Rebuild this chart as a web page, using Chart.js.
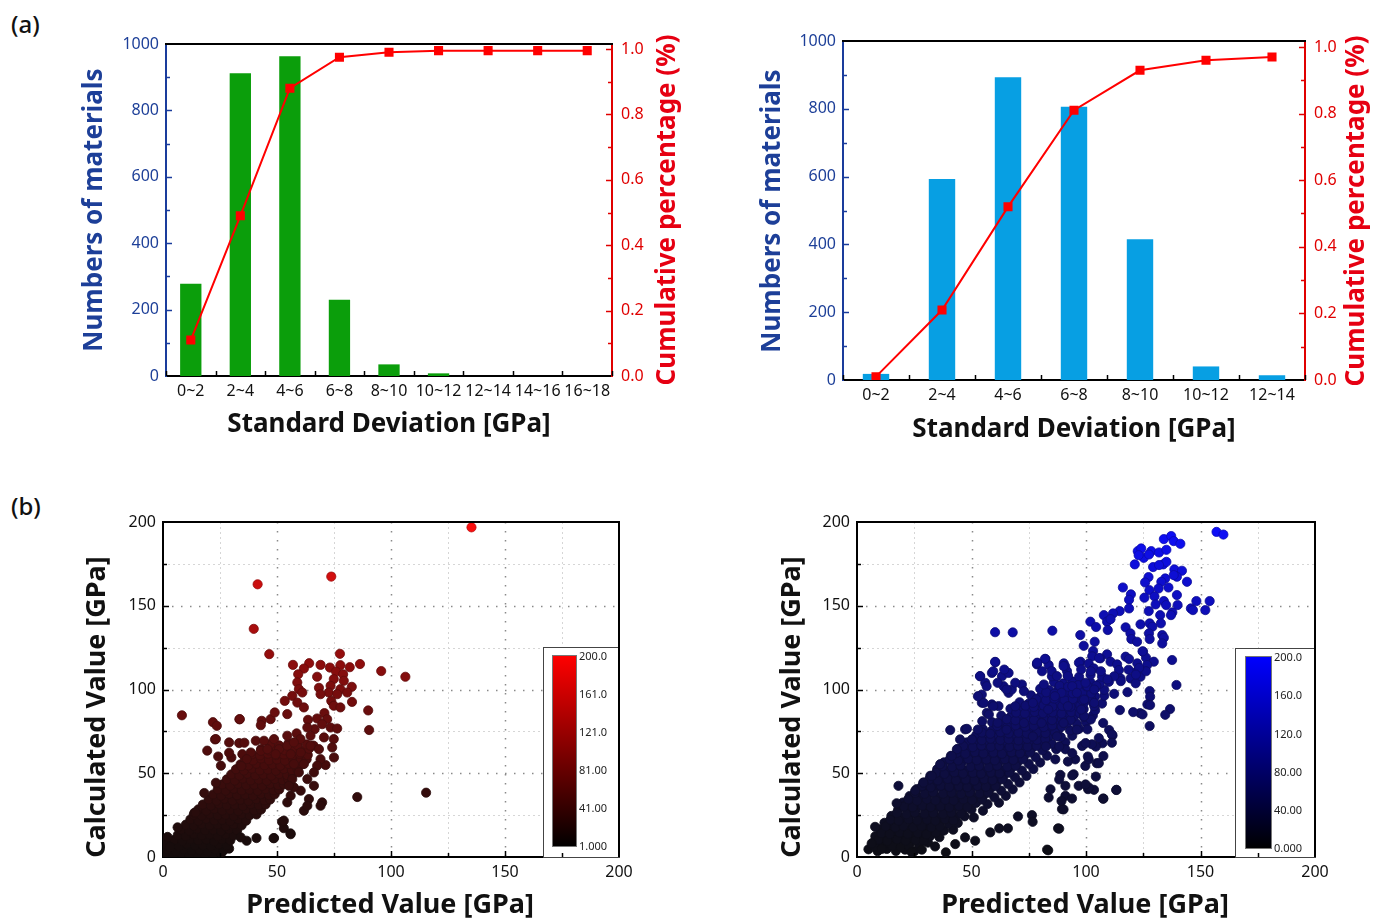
<!DOCTYPE html>
<html>
<head>
<meta charset="utf-8">
<script src="https://cdn.jsdelivr.net/npm/chart.js@4.4.1/dist/chart.umd.min.js"></script>
<style>
  html, body { margin: 0; padding: 0; background: #fff; }
  body { width: 1377px; height: 923px; position: relative; overflow: hidden; font-family: 'Noto Sans', sans-serif; }
  canvas { position: absolute; }
  .panel { position: absolute; font: 500 24px 'Noto Sans', sans-serif; color: #111; line-height: 1; }
</style>
</head>
<body>
<div class="panel" style="left:11px;top:12px">(a)</div>
<div class="panel" style="left:11px;top:494px">(b)</div>
<canvas id="histA" width="690" height="450" style="left:0;top:0"></canvas>
<canvas id="histB" width="687" height="460" style="left:690px;top:0"></canvas>
<canvas id="scatA" width="690" height="443" style="left:0;top:480px"></canvas>
<canvas id="scatB" width="687" height="443" style="left:690px;top:480px"></canvas>
<script>
// ---- histogram data ----
const binsA = ['0~2', '2~4', '4~6', '6~8', '8~10', '10~12', '12~14', '14~16', '16~18'];
const countsA = [278, 912, 963, 230, 35, 8, 0, 0, 0];
const cumA = [0.11, 0.49, 0.88, 0.975, 0.99, 0.995, 0.995, 0.995, 0.995];

const binsB = ['0~2', '2~4', '4~6', '6~8', '8~10', '10~12', '12~14'];
const countsB = [18, 593, 893, 806, 415, 40, 14];
const cumB = [0.01, 0.21, 0.52, 0.81, 0.93, 0.96, 0.97];

const countTicks = [0, 200, 400, 600, 800, 1000];
const cumTicks = [0, 0.2, 0.4, 0.6, 0.8, 1.0];
const valueTicks = [0, 50, 100, 150, 200];
const gridValues = [25, 50, 75, 100, 125, 150, 175];
const colorbarRed = ['200.0', '161.0', '121.0', '81.00', '41.00', '1.000'];
const colorbarBlue = ['200.0', '160.0', '120.0', '80.00', '40.00', '0.000'];

// ---- scatter data: [predicted, calculated] ----
const leftCore = [
[1,1.5],[4.5,0.8],[8,2],[11.5,1],[15,1.8],[18.5,0.6],[22,1.4],[25.5,2.2],
[2,4.5],[5.5,3.6],[9,4.8],[12.5,3.9],[16,4.4],[19.5,3.5],[23,4.6],[26.5,3.8],[29,5],
[3.5,7.4],[7,6.6],[10.5,7.8],[14,6.9],[17.5,7.2],[21,6.5],[24.5,7.6],[28,6.8],
[5,10.3],[8.5,9.6],[12,10.8],[15.5,9.9],[19,10.4],[22.5,9.5],[26,10.6],[29.5,9.8],
[6.5,13.2],[10,12.6],[13.5,13.8],[17,12.9],[20.5,13.4],[24,12.5],[27.5,13.6],[31,12.8],
[8,16.4],[11.5,15.7],[15,16.8],[18.5,15.9],[22,16.3],[25.5,15.5],[29,16.6],[32.5,15.8],
[10,19.3],[13.5,18.6],[17,19.7],[20.5,18.8],[24,19.4],[27.5,18.5],[31,19.5],[34.5,18.9],
[12,22.4],[15.5,21.6],[19,22.8],[22.5,21.8],[26,22.3],[29.5,21.5],[33,22.6],[36.5,21.7],
[13.5,25.3],[17,24.6],[20.5,25.7],[24,24.8],[27.5,25.2],[31,24.5],[34.5,25.6],[38,24.9],[41,25.4],
[15.5,28.4],[19,27.6],[22.5,28.8],[26,27.7],[29.5,28.2],[33,27.5],[36.5,28.6],[40,27.8],[43,28.3],
[17.5,31.3],[21,30.6],[24.5,31.7],[28,30.8],[31.5,31.2],[35,30.5],[38.5,31.6],[42,30.9],[45,31.4],
[20,34.4],[23.5,33.6],[27,34.8],[30.5,33.7],[34,34.2],[37.5,33.5],[41,34.6],[44.5,33.8],[47,34.3],
[22,37.3],[25.5,36.6],[29,37.7],[32.5,36.8],[36,37.2],[39.5,36.5],[43,37.6],[46.5,36.9],[49,37.4],
[24,40.4],[27.5,39.6],[31,40.8],[34.5,39.7],[38,40.2],[41.5,39.5],[45,40.6],[48.5,39.8],[51,40.3],
[26,43.3],[29.5,42.6],[33,43.7],[36.5,42.8],[40,43.2],[43.5,42.5],[47,43.6],[50.5,42.9],[53,43.4],
[28,46.4],[31.5,45.6],[35,46.8],[38.5,45.7],[42,46.2],[45.5,45.5],[49,46.6],[52.5,45.8],[55,46.3],
[30,49.3],[33.5,48.6],[37,49.7],[40.5,48.8],[44,49.2],[47.5,48.5],[51,49.6],[54.5,48.9],[57,49.4],
[32,52.4],[35.5,51.6],[39,52.8],[42.5,51.7],[46,52.2],[49.5,51.5],[53,52.6],[56.5,51.8],[59,52.3],
[34,55.3],[37.5,54.6],[41,55.7],[44.5,54.8],[48,55.2],[51.5,54.5],[55,55.6],[58.5,54.9],[61,55.4],
[36,58.4],[39.5,57.6],[43,58.8],[46.5,57.7],[50,58.2],[53.5,57.5],[57,58.6],[60.5,57.8],[63,58.3],
[39,61.3],[42.5,60.6],[46,61.7],[49.5,60.8],[53,61.2],[56.5,60.5],[60,61.6],[63.5,60.9],
[43,64.4],[46.5,63.6],[50,64.8],[53.5,63.7],[57,64.2],[60.5,63.5],[64,64.6],
[47,67.3],[51,66.6],[55,67.7],[59,66.8],[63,67.2],[66,66.5]
];
const leftSpread = [
[135.3,196.8],[41.5,162.8],[73.8,167.4],[39.8,136.2],[46.6,121.1],[8.3,84.6],[95.7,111],[106.3,107.6],
[115.4,38.4],[85.2,35.8],[90,87.5],[90.4,75.8],[86.4,115.2],[77.6,121.3],[33.5,82.2],[21.9,80.5],
[23.6,78.3],[22.8,70.2],[19.4,63.5],[18.1,38.2],[13.8,26.4],[48.5,11.2],[56,13.6],[53,17.2],[52.2,21],
[57,114.7],[64.1,115.7],[69.1,114.7],[73.2,113.1],[77.8,114.5],[81.9,113.3],[61.8,112.5],[59.3,109.1],
[67.6,107.6],[75.9,110.7],[79,109.1],[74.9,106.2],[79.3,105.2],[58.9,104.2],[59.6,100.2],[68.4,101],
[73.5,102.2],[77.8,100.2],[82.8,101.6],[72.7,98.2],[76.4,97.2],[80.8,98.2],[61.1,98.2],[69.1,97.2],
[53.4,93.2],[56.7,96.2],[58.9,92.2],[61.8,89.3],[73.8,93.2],[74.9,90.3],[77.8,89.3],[82.9,92.6],
[33.7,82.3],[43.3,81.3],[47.2,82.3],[49,86.3],[54.5,85.3],[63.6,81.9],[67.6,82.7],[70.8,85.9],[72,82.3],
[66.5,76.3],[69.8,79.3],[73.5,77.3],[76.4,76.7],[63.3,77.3],[42.9,78.7],
[23.2,70.4],[29,68.4],[33.4,68],[24.2,60],[40.7,69.4],[44.3,69.4],[48.7,70.4],[54.5,72.4],[58.6,73.8],
[60.3,70.4],[64.7,72.4],[70.6,71.4],[74.9,70.4],[74.2,65.4],[75,59.4],[71.3,54.9],[69.1,58.4],[67.6,54.5],
[66.2,50.5],[61.8,55.5],[63.3,46.5],[66.2,42.5],[60.4,39.6],[64,34.6],[69.8,32.6],[69.1,30.6],[61.8,27.6],
[63.3,30.6],[56,36.6],[54.5,32.6],[57.4,41.6],[53,21.7],[55.9,14.1],[48.7,11.3],[41,11.3],[36.7,9.7],
[34.1,11.7],[14.3,26.6],[6.4,17.7],[1.3,10.7],[25.4,54.5],[30,59.4],[34.8,61.4],[38.5,62.4],[36.7,58.4],
[42.9,63.4],[45.8,64.4],[50.9,64.4],[54.5,66.4],[57.4,68.4],[49.4,61.4],[56,61.4],[60.4,62.4],[64.7,66.4],
[68.4,64.4],[57.4,55.5],[59.6,50.5],[56.7,46.5],[55.2,42.5],[23.2,44.3],[29,62.2],[35.7,68.2],[34.4,54.3],
[0.5,8],[2,12],[3,6]
];
const rightCore = [
[5,4.6],[9,3.5],[13,4.8],[17,3.6],[21,4.4],[25,3.4],
[7,8.5],[11,7.6],[15,8.8],[19,7.7],[23,8.3],[27,7.5],[31,8.6],
[8,12.4],[12,11.6],[16,12.8],[20,11.7],[24,12.3],[28,11.5],[32,12.6],[36,11.8],
[10,16.5],[14,15.6],[18,16.8],[22,15.7],[26,16.2],[30,15.5],[34,16.6],[38,15.8],[42,16.3],
[12,20.4],[16,19.6],[20,20.8],[24,19.7],[28,20.3],[32,19.5],[36,20.6],[40,19.8],[44,20.3],
[15,24.5],[19,23.6],[23,24.8],[27,23.7],[31,24.2],[35,23.5],[39,24.6],[43,23.8],[47,24.3],[51,23.6],
[18,28.4],[22,27.6],[26,28.8],[30,27.7],[34,28.3],[38,27.5],[42,28.6],[46,27.8],[50,28.3],[55,27.6],
[20,32.5],[24,31.6],[28,32.8],[32,31.7],[36,32.2],[40,31.5],[44,32.6],[48,31.8],[52,32.3],[57,31.6],[62,32.4],
[23,36.4],[27,35.6],[31,36.8],[35,35.7],[39,36.3],[43,35.5],[47,36.6],[51,35.8],[55,36.3],[60,35.6],[65,36.5],
[26,40.5],[30,39.6],[34,40.8],[38,39.7],[42,40.2],[46,39.5],[50,40.6],[54,39.8],[58,40.3],[63,39.6],[68,40.4],
[29,44.4],[33,43.6],[37,44.8],[41,43.7],[45,44.3],[49,43.5],[53,44.6],[57,43.8],[61,44.3],[66,43.6],[71,44.5],
[32,48.5],[36,47.6],[40,48.8],[44,47.7],[48,48.2],[52,47.5],[56,48.6],[60,47.8],[64,48.3],[69,47.6],[74,48.4],
[35,52.4],[39,51.6],[43,52.8],[47,51.7],[51,52.3],[55,51.5],[59,52.6],[63,51.8],[67,52.3],[72,51.6],[77,52.5],
[38,56.5],[42,55.6],[46,56.8],[50,55.7],[54,56.2],[58,55.5],[62,56.6],[66,55.8],[70,56.3],[75,55.6],[80,56.4],
[41,60.4],[45,59.6],[49,60.8],[53,59.7],[57,60.3],[61,59.5],[65,60.6],[69,59.8],[73,60.3],[78,59.6],[83,60.5],
[44,64.5],[48,63.6],[52,64.8],[56,63.7],[60,64.2],[64,63.5],[68,64.6],[72,63.8],[76,64.3],[81,63.6],[87,64.4],
[48,68.4],[52,67.6],[56,68.8],[60,67.7],[64,68.3],[68,67.5],[72,68.6],[76,67.8],[80,68.3],[85,67.6],[91,68.5],
[52,72.5],[56,71.6],[60,72.8],[64,71.7],[68,72.2],[72,71.5],[76,72.6],[80,71.8],[84,72.3],[89,71.6],[94,72.4],
[55,76.4],[59,75.6],[63,76.8],[67,75.7],[71,76.3],[75,75.5],[79,76.6],[83,75.8],[88,76.3],[93,75.6],[97,76.5],
[59,80.5],[63,79.6],[67,80.8],[71,79.7],[75,80.2],[79,79.5],[83,80.6],[87,79.8],[92,80.3],[96,79.6],[100,80.4],
[63,84.4],[67,83.6],[71,84.8],[75,83.7],[79,84.3],[83,83.5],[87,84.6],[91,83.8],[95,84.3],[99,83.6],[103,84.5],
[67,88.5],[71,87.6],[75,88.8],[79,87.7],[83,88.2],[87,87.5],[91,88.6],[95,87.8],[99,88.3],[104,87.6],
[71,92.4],[75,91.6],[79,92.8],[83,91.7],[87,92.3],[91,91.5],[95,92.6],[99,91.8],[103,92.3],[107,91.6],
[76,96.5],[80,95.6],[84,96.8],[88,95.7],[92,96.2],[96,95.5],[100,96.6],[104,95.8],[108,96.3],
[80,100.4],[84,99.6],[88,100.8],[92,99.7],[96,100.3],[100,99.5],[104,100.6],[108,99.8],
[86,104.5],[90,103.6],[94,104.8],[98,103.7],[102,104.2],[106,103.5],[110,104.6],
[92,108.4],[97,107.6],[102,108.8],[107,107.7]
];
// denser middle of the right-hand band
const rightCoreFill = [
[7.6,6.2],[11.2,5.7],[15.4,6.6],[19.1,5.9],[22.7,6.4],
[9.4,10.3],[13.2,9.6],[17.5,10.6],[21.3,9.8],[25.6,10.1],[29.2,9.7],
[10.7,14.2],[14.3,13.7],[18.6,14.6],[22.2,13.8],[26.5,14.3],[30.3,13.6],[34.4,14.5],
[12.5,18.3],[16.7,17.6],[20.3,18.5],[24.6,17.8],[28.2,18.4],[32.5,17.7],[36.3,18.2],
[14.6,22.2],[18.2,21.7],[22.5,22.6],[26.3,21.8],[30.6,22.3],[34.2,21.6],[38.5,22.5],[42.1,21.9],
[17.4,26.3],[21.6,25.6],[25.2,26.5],[29.5,25.8],[33.3,26.2],[37.6,25.7],[41.2,26.4],[45.5,25.9],
[20.5,30.2],[24.3,29.7],[28.6,30.6],[32.2,29.8],[36.5,30.3],[40.3,29.6],[44.6,30.5],[48.2,29.9],
[22.6,34.3],[26.2,33.6],[30.5,34.5],[34.3,33.8],[38.6,34.2],[42.2,33.7],[46.5,34.4],[50.3,33.9],[54.6,34.3],
[25.3,38.2],[29.5,37.7],[33.2,38.6],[37.6,37.8],[41.3,38.3],[45.5,37.6],[49.2,38.5],[53.6,37.9],[57.3,38.4],
[28.4,42.3],[32.2,41.6],[36.6,42.5],[40.3,41.8],[44.5,42.2],[48.2,41.7],[52.6,42.4],[56.3,41.9],[60.5,42.3],
[31.5,46.2],[35.3,45.7],[39.6,46.6],[43.2,45.8],[47.5,46.3],[51.3,45.6],[55.6,46.5],[59.2,45.9],[63.5,46.4],
[34.6,50.3],[38.2,49.6],[42.5,50.5],[46.3,49.8],[50.6,50.2],[54.2,49.7],[58.5,50.4],[62.3,49.9],[66.6,50.3],
[37.3,54.2],[41.5,53.7],[45.2,54.6],[49.6,53.8],[53.3,54.3],[57.5,53.6],[61.2,54.5],[65.6,53.9],[69.3,54.4],
[40.5,58.3],[44.2,57.6],[48.6,58.5],[52.3,57.8],[56.5,58.2],[60.2,57.7],[64.6,58.4],[68.3,57.9],[72.5,58.3],
[43.6,62.2],[47.3,61.7],[51.5,62.6],[55.2,61.8],[59.6,62.3],[63.3,61.6],[67.5,62.5],[71.2,61.9],[75.6,62.4],
[46.4,66.3],[50.6,65.6],[54.3,66.5],[58.5,65.8],[62.2,66.2],[66.6,65.7],[70.3,66.4],[74.5,65.9],[78.4,66.3],
[50.2,70.2],[54.5,69.7],[58.3,70.6],[62.6,69.8],[66.2,70.3],[70.5,69.6],[74.3,70.5],[78.6,69.9],[82.2,70.4],
[54.5,74.3],[58.2,73.6],[62.6,74.5],[66.3,73.8],[70.5,74.2],[74.2,73.7],[78.6,74.4],[82.3,73.9],[86.5,74.3],
[61.2,78.2],[65.6,77.7],[69.3,78.6],[73.5,77.8],[77.2,78.3],[81.6,77.6],[85.3,78.5],[89.4,77.9],
[65.4,82.3],[69.2,81.6],[73.5,82.5],[77.3,81.8],[81.6,82.2],[85.2,81.7],[89.5,82.4],[93.3,81.9],
[69.5,86.2],[73.3,85.7],[77.6,86.6],[81.2,85.8],[85.5,86.3],[89.3,85.6],[93.6,86.5],[97.2,85.9],
[73.6,90.3],[77.2,89.6],[81.5,90.5],[85.3,89.8],[89.6,90.2],[93.2,89.7],[97.5,90.4],
[78.3,94.2],[82.5,93.7],[86.2,94.6],[90.6,93.8],[94.3,94.3],[98.5,93.6],[102.2,94.5],
[82.6,98.3],[86.3,97.6],[90.5,98.5],[94.2,97.8],[98.6,98.2],[102.3,97.7],
[88.5,102.2],[92.2,101.7],[96.6,102.6],[100.3,101.8],[104.5,102.3]
];
const rightSpread = [
[157,194.1],[160,192.5],[134,189.8],[137.2,191.6],[138.3,188.6],[141.2,187],[122.6,182.6],[124.1,184.2],
[125.2,178.6],[123,180.2],[128.5,182.6],[127.5,180.6],[131.9,181.8],[135.1,183.4],[121.3,174.7],[129.3,173.1],
[133.7,174.7],[135.1,176.2],[131.9,174.3],[138.6,171.7],[141.9,170.9],[139.7,167.3],[138.3,168.3],[144.1,164.3],
[134.6,166.3],[132.9,164.3],[127.3,167.1],[125.8,163.9],[116.1,160.9],[136,160.9],[131.7,160.3],[127.7,159.3],
[119.6,156.8],[118.8,153.6],[125.5,154.8],[129.9,155.6],[134,152.8],[135,150.4],[139.7,156.4],[140,150.4],
[137.7,146],[137.1,144.4],[145.8,148.4],[146.7,147.4],[148.2,152.8],[152.1,147.4],[154,152.8],[127.4,146.8],
[130.4,150.8],[132.4,144.4],[118.8,148.4],[114.7,146.8],[111.8,145.4],[107.8,144.4],[109.2,140.5],[110.7,142],
[101.9,140.5],[104.4,137.3],[109.5,135.5],[68,134.1],[60.3,134.2],[85.3,135.1],[97.5,132.5],[99,126.1],
[103.8,128.5],[117.3,137.1],[119.4,133.5],[119.8,130.1],[122.3,128.5],[123.8,138.9],[127.8,139.5],[129,137.5],
[127.5,133.5],[127.8,130.1],[132.7,139.5],[133.3,132.5],[134,130.9],[133.3,127.5],[103.1,123],[102.7,119.8],
[97.6,116.6],[109.2,121],[110.7,116.6],[106.3,118.6],[117.3,119.6],[118.8,118.2],[122.4,115.6],[124.9,122.6],
[126.2,119],[129.6,116.6],[126.7,114.6],[137.6,117.6],[122,110.6],[123.8,107.6],[127.8,99.1],[128,95.7],
[139.5,102.7],[82.3,118.2],[78.6,115],[83.7,114.6],[90.3,115.6],[91.7,111],[101.2,115.4],[103.4,112.6],
[113.6,115],[114.4,111.6],[115.1,106.6],[118.6,111.8],[119.5,106.6],[121.7,103.7],[126.8,91.1],[123.6,85.9],
[136.7,88.3],[128,90.7],[127.8,78.2],[134.6,84.9],[124.7,85.1],[120.6,86.5],[114.8,87.7],[118.1,98.4],
[112.3,97.4],[110.1,75.8],[111.6,72.6],[107.6,60.3],[104.7,56],[104.3,48],[113.3,40.1],[107.6,34.9],
[103.5,40.1],[100.9,40.5],[107.2,67.9],[104.3,65.9],[102.1,82.1],[99.2,84.1],[124.7,122.8],[126.2,110.9],
[123.2,112.9],[121.8,108.9],[115.2,105],[112.3,107.9],[109.4,106],[105.7,118.8],[102.1,110.9],[106.5,110.9],
[100.6,102],[99.2,94],[103.6,90.1],[100.6,76.2],
[7.9,18],[18.1,42.5],[17.3,32.1],[6.4,8.1],[10.8,4.8],[23.9,2.8],[28.3,4.4],[34.1,6.3],[38.8,2.8],[42.9,7.7],
[47.2,11.7],[51.6,9.7],[58.2,14.7],[62.1,17.1],[65.9,17.1],[70.3,24.2],[76.4,25],[76.7,21],[83,4.4],[87.8,17.1],
[83.7,35.5],[89.5,28.6],[91,36.5],[93.9,34.9],[91,42.5],[96.8,42.5],[101.2,41.5],[88.8,49],[94.6,49.4],
[99.7,54.4],[95.3,58.3],[86.6,58.3],[91,64.3],[98.3,66.3],[102.6,67.3],[101.2,58.3],[40.7,75.8],[53.8,107.9],
[56,104],[58.9,109.9],[60.4,116.3],[63.3,107.9],[66.2,109.9],[64,102],[66.2,98],[67.6,100],[54.5,97],
[56.7,86.1],[54.5,92.1],[58.9,91.1],[61.8,90.1],[78.6,115.5],[80.8,110.9],[85.1,107.9],[90.9,113.9],[72,103],
[47.2,76.2],[45,70.2],[43.6,64.3],[41.4,60.3],[36.3,55.4],[32.7,48.4],[29,44.4],[25.4,39.5],[22.4,34.5],
[60.3,116.5],[53.7,108],[59.5,110.9],[64.3,111.9],[61.4,104],[56.6,102],[52.8,96],[55.3,92],[59.5,90],
[54.7,81.1],[57.6,85.1],[65.3,100],[69.1,104],[72.9,99],[52.8,76.1],[48,76.5],[61.4,80.1],[69.1,90],[76.8,92],
[81.6,103],[82.1,118.3],[78.7,116],[85,111],[87.3,108],[90.2,114],[92.1,108],[94,102],[96.9,116],[97.9,112],
[99.8,104],[103.6,100],[96,98],[89.3,98],[97.9,88],[103.6,92],[107.5,80],[92.1,90],[86.4,96],[83.5,88],
[90.2,80],[96,76],[87.3,72],[80.6,80],[72.9,80],[65.3,76],[76.8,72],[82.5,66],[88.3,66],[94,62],[99.8,68],
[105.6,71],[111.3,73.2],[111.3,68.2],[100.8,60],[105.6,56],[92.1,57],[94,48.7],[99.8,43.3],[113.2,40],
[107.5,34.8],[88.3,46.3],[84.5,40.4],[89.3,33.4],[90.2,28.4],[88.3,16.9],[83.5,4]
];

// ---- shared styling ----
const FONT = "'Noto Sans', sans-serif";
Chart.defaults.font.family = FONT;
Chart.defaults.color = '#111';
const BLUE_TXT = '#1d3f98';
const BLUE_AX = '#1a3c9c';
const RED_LINE = '#ff0000';
const RED_TXT = '#e60012';
const RED_AX = '#e00000';
const TICK_FONT = { size: 16 };

function vText(ctx, text, x, y, color, font) {
  ctx.save();
  ctx.translate(x, y);
  ctx.rotate(-Math.PI / 2);
  ctx.font = font;
  ctx.fillStyle = color;
  ctx.textAlign = 'center';
  ctx.textBaseline = 'middle';
  ctx.fillText(text, 0, 0);
  ctx.restore();
}
function hText(ctx, text, x, y, color, font) {
  ctx.save();
  ctx.font = font;
  ctx.fillStyle = color;
  ctx.textAlign = 'center';
  ctx.textBaseline = 'middle';
  ctx.fillText(text, x, y);
  ctx.restore();
}
function tick(ctx, x1, y1, x2, y2) {
  ctx.beginPath(); ctx.moveTo(x1, y1); ctx.lineTo(x2, y2); ctx.stroke();
}

// ---- histogram with cumulative line ----
function histDecor(o) {
  return {
    id: 'histDecor',
    afterDraw(chart) {
      const { ctx, chartArea: a, scales: { x, y, y1 } } = chart;
      ctx.save();
      ctx.strokeStyle = '#000'; ctx.lineWidth = 2;
      tick(ctx, a.left - 1, a.top, a.right + 1, a.top);
      // count axis ticks (inside)
      ctx.strokeStyle = BLUE_AX; ctx.lineWidth = 1.5;
      for (let v = 100; v < 1000; v += 100) {
        const py = Math.round(y.getPixelForValue(v)) + 0.5;
        tick(ctx, a.left, py, a.left + (v % 200 === 0 ? 6 : 4), py);
      }
      // cumulative axis ticks (inside)
      ctx.strokeStyle = RED_AX;
      for (let i = 1; i <= 10; i++) {
        const py = Math.round(y1.getPixelForValue(i / 10)) + 0.5;
        tick(ctx, a.right, py, a.right - (i % 2 === 0 ? 6 : 4), py);
      }
      // category boundary ticks
      ctx.strokeStyle = '#000';
      const n = o.bins.length;
      for (let i = 0; i <= n; i++) {
        let px;
        if (i === 0) px = a.left;
        else if (i === n) px = a.right;
        else px = (x.getPixelForValue(i - 1) + x.getPixelForValue(i)) / 2;
        px = Math.round(px) + 0.5;
        tick(ctx, px, a.bottom, px, a.bottom - 5);
      }
      ctx.restore();
      vText(ctx, 'Numbers of materials', o.leftTitleX, o.titleY, BLUE_TXT, `bold 26px ${FONT}`);
      vText(ctx, 'Cumulative percentage (%)', o.rightTitleX, o.titleY, RED_TXT, `bold 26px ${FONT}`);
      hText(ctx, 'Standard Deviation [GPa]', (a.left + a.right) / 2, o.xTitleY, '#111', `bold 26px ${FONT}`);
    }
  };
}

function histogram(id, o) {
  return new Chart(document.getElementById(id), {
    type: 'bar',
    data: {
      labels: o.bins,
      datasets: [
        { type: 'line', data: o.cum, yAxisID: 'y1', borderColor: RED_LINE, backgroundColor: RED_LINE,
          borderWidth: 2, pointStyle: 'rect', pointRadius: 5, pointHoverRadius: 5, tension: 0, order: 0 },
        { type: 'bar', data: o.counts, yAxisID: 'y', backgroundColor: o.barColor,
          barPercentage: o.barPct, categoryPercentage: 1, order: 1 }
      ]
    },
    options: {
      responsive: false, animation: false, events: [],
      layout: { padding: { top: o.top, left: 0, right: 0, bottom: 0 } },
      plugins: { legend: { display: false }, tooltip: { enabled: false } },
      scales: {
        x: {
          offset: true,
          grid: { display: false, drawTicks: false },
          border: { color: '#000', width: 2 },
          ticks: { autoSkip: false, maxRotation: 0, minRotation: 0, padding: 6, color: '#111', font: TICK_FONT },
          afterFit: s => { s.height = o.xH; }
        },
        y: {
          position: 'left', min: 0, max: 1000,
          grid: { display: false, drawTicks: false },
          border: { color: BLUE_AX, width: 2 },
          ticks: { color: BLUE_TXT, font: TICK_FONT, padding: 7, callback: v => String(v) },
          afterBuildTicks: s => { s.ticks = countTicks.map(v => ({ value: v })); },
          afterFit: s => { s.width = o.yW; }
        },
        y1: {
          position: 'right', min: 0, max: o.cumMax,
          grid: { display: false, drawTicks: false },
          border: { color: RED_AX, width: 2 },
          ticks: { color: RED_AX, font: TICK_FONT, padding: 9, callback: v => Number(v).toFixed(1) },
          afterBuildTicks: s => { s.ticks = cumTicks.map(v => ({ value: v })); },
          afterFit: s => { s.width = o.y1W; }
        }
      }
    },
    plugins: [histDecor(o)]
  });
}

histogram('histA', {
  bins: binsA, counts: countsA, cum: cumA, barColor: '#0b9e0b', barPct: 0.43,
  top: 44, yW: 166, y1W: 78, xH: 74, cumMax: 1.0153,
  leftTitleX: 95, rightTitleX: 668, titleY: 210, xTitleY: 425
});
histogram('histB', {
  bins: binsB, counts: countsB, cum: cumB, barColor: '#079fe3', barPct: 0.40,
  top: 41, yW: 153, y1W: 72, xH: 80, cumMax: 1.018,
  leftTitleX: 83, rightTitleX: 667, titleY: 211, xTitleY: 430
});

// ---- scatter plots with colour bar ----
// k darkens the marker outline relative to its fill
function redScale(v, k) {
  const t = Math.pow(Math.max(0, Math.min(1, (v - 1) / 199)), 1.2);
  return `rgb(${Math.round(255 * t * k + 20 * (1 - t))},${Math.round(14 * t * k + 12 * (1 - t))},${Math.round(14 * t * k + 12 * (1 - t))})`;
}
function blueScale(v, k) {
  const t = Math.pow(Math.max(0, Math.min(1, v / 200)), 1.2);
  return `rgb(${Math.round(14 * t * k + 14 * (1 - t))},${Math.round(14 * t * k + 14 * (1 - t))},${Math.round(255 * t * k + 20 * (1 - t))})`;
}

function scatterDecor(o) {
  return {
    id: 'scatterDecor',
    beforeDatasetsDraw(chart) {
      const { ctx, chartArea: a, scales: { x, y } } = chart;
      ctx.save();
      gridValues.forEach(v => {
        const major = v % 50 === 0;
        ctx.strokeStyle = major ? '#8a8a8a' : '#d6d6d6';
        ctx.lineWidth = major ? 1.5 : 1;
        ctx.setLineDash(major ? [1.5, 7.5] : [2, 3]);
        const px = Math.round(x.getPixelForValue(v)) + 0.5;
        const py = Math.round(y.getPixelForValue(v)) + 0.5;
        tick(ctx, px, a.top, px, a.bottom);
        tick(ctx, a.left, py, a.right, py);
      });
      ctx.restore();
    },
    afterDatasetsDraw(chart) {
      const { ctx, chartArea: a } = chart;
      const c = o.bar;
      ctx.save();
      // colour bar box
      ctx.fillStyle = '#fff';
      ctx.fillRect(a.right - c.boxW, c.boxTop, c.boxW, a.bottom - c.boxTop);
      ctx.strokeStyle = '#444'; ctx.lineWidth = 1;
      ctx.strokeRect(a.right - c.boxW + 0.5, c.boxTop + 0.5, c.boxW, a.bottom - c.boxTop);
      const gx = a.right - c.barOff, gw = c.barW;
      const g = ctx.createLinearGradient(0, c.barTop, 0, c.barBottom);
      g.addColorStop(0, o.topColor);
      g.addColorStop(1, '#000');
      ctx.fillStyle = g;
      ctx.fillRect(gx, c.barTop, gw, c.barBottom - c.barTop);
      ctx.strokeStyle = '#777';
      ctx.strokeRect(gx + 0.5, c.barTop + 0.5, gw - 1, c.barBottom - c.barTop - 1);
      ctx.font = `11px ${FONT}`;
      ctx.fillStyle = '#222';
      ctx.textAlign = 'left';
      ctx.textBaseline = 'middle';
      const n = o.barLabels.length;
      o.barLabels.forEach((t, i) => {
        const ty = c.barTop + 2 + i * (c.barBottom - c.barTop - 2) / (n - 1);
        ctx.fillText(t, gx + gw + 2, ty);
      });
      ctx.restore();
    },
    afterDraw(chart) {
      const { ctx, chartArea: a, scales: { x, y } } = chart;
      ctx.save();
      ctx.strokeStyle = '#000'; ctx.lineWidth = 2;
      tick(ctx, a.left - 1, a.top, a.right + 1, a.top);
      tick(ctx, a.right, a.top, a.right, a.bottom);
      ctx.lineWidth = 1.5;
      for (let v = 25; v < 200; v += 25) {
        const len = v % 50 === 0 ? 6 : 4;
        const px = Math.round(x.getPixelForValue(v)) + 0.5;
        const py = Math.round(y.getPixelForValue(v)) + 0.5;
        tick(ctx, px, a.bottom, px, a.bottom - len);
        tick(ctx, a.left, py, a.left + len, py);
      }
      ctx.restore();
      vText(ctx, 'Calculated Value [GPa]', o.yTitleX, o.yTitleY, '#111', `bold 27px ${FONT}`);
      hText(ctx, 'Predicted Value [GPa]', o.xTitleX, o.xTitleY, '#111', `bold 27px ${FONT}`);
    }
  };
}

function scatter(id, o) {
  const pts = o.points.map(p => ({ x: p[0], y: p[1] }));
  return new Chart(document.getElementById(id), {
    type: 'scatter',
    data: { datasets: [{
      data: pts,
      pointRadius: 4.6, pointHoverRadius: 4.6,
      pointBorderWidth: 0.8,
      pointBackgroundColor: c => o.color(c.raw ? c.raw.y : 0, 1),
      pointBorderColor: c => o.color(c.raw ? c.raw.y : 0, 0.75)
    }] },
    options: {
      responsive: false, animation: false, events: [],
      layout: { padding: { top: o.top, right: o.right, left: 0, bottom: 0 } },
      plugins: { legend: { display: false }, tooltip: { enabled: false } },
      scales: {
        x: {
          type: 'linear', min: 0, max: 200,
          grid: { display: false, drawTicks: false },
          border: { color: '#000', width: 2 },
          ticks: { color: '#111', font: TICK_FONT, padding: 6 },
          afterBuildTicks: s => { s.ticks = valueTicks.map(v => ({ value: v })); },
          afterFit: s => { s.height = o.xH; }
        },
        y: {
          type: 'linear', min: 0, max: 200,
          grid: { display: false, drawTicks: false },
          border: { color: '#000', width: 2 },
          ticks: { color: '#111', font: TICK_FONT, padding: 7 },
          afterBuildTicks: s => { s.ticks = valueTicks.map(v => ({ value: v })); },
          afterFit: s => { s.width = o.yW; }
        }
      }
    },
    plugins: [scatterDecor(o)]
  });
}

scatter('scatA', {
  points: leftCore.concat(leftSpread), color: redScale, topColor: '#ff0000', barLabels: colorbarRed,
  top: 42, right: 71, yW: 163, xH: 66,
  yTitleX: 97, yTitleY: 227, xTitleX: 390, xTitleY: 425,
  bar: { boxW: 76, boxTop: 167, barOff: 67, barW: 25, barTop: 175, barBottom: 367 }
});
scatter('scatB', {
  points: rightCore.concat(rightCoreFill, rightSpread), color: blueScale, topColor: '#0000ff', barLabels: colorbarBlue,
  top: 42, right: 62, yW: 167, xH: 66,
  yTitleX: 102, yTitleY: 227, xTitleX: 395, xTitleY: 425,
  bar: { boxW: 80, boxTop: 168, barOff: 70, barW: 27, barTop: 176, barBottom: 369 }
});
</script>
</body>
</html>
